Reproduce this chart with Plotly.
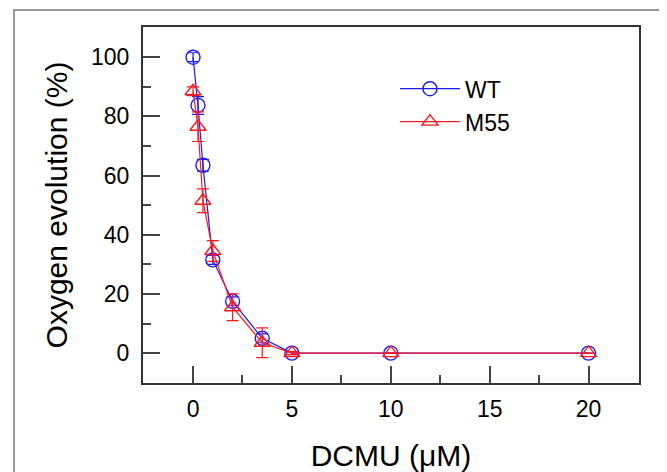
import plotly.graph_objects as go

dcmu = [0, 0.25, 0.5, 1, 2, 3.5, 5, 10, 20]
wt_vals = [100, 83.7, 63.5, 31.5, 17.5, 5, 0, 0, 0]
wt_err = [1.5, 3, 2, 1.5, 1.5, 1.5, 0.5, 0, 0]
m55_vals = [88.5, 76.5, 51.5, 34.5, 15.5, 3.5, 0, 0, 0]
m55_err = [1.5, 5, 4, 3.5, 4.5, 5, 0.5, 0, 0]

x_ticks = [0, 5, 10, 15, 20]
y_ticks = [0, 20, 40, 60, 80, 100]

FONT = "Liberation Sans, Arial, sans-serif"

fig = go.Figure()
fig.add_trace(go.Scatter(
    x=dcmu, y=wt_vals, name="WT", mode="lines+markers",
    line=dict(color="#1a1aff", width=1.2),
    marker=dict(symbol="circle-open", size=14, color="#1a1aff", line=dict(width=1.4)),
    error_y=dict(type="data", array=wt_err, color="#1a1aff", thickness=1.2, width=6),
))
fig.add_trace(go.Scatter(
    x=dcmu, y=m55_vals, name="M55", mode="lines+markers",
    line=dict(color="#ff1a1a", width=1.2),
    marker=dict(symbol="triangle-up-open", size=14, color="#ff1a1a", line=dict(width=1.4)),
    error_y=dict(type="data", array=m55_err, color="#ff1a1a", thickness=1.2, width=6),
))

fig.update_layout(
    width=659, height=464,
    margin=dict(l=135, r=28, t=19, b=89, autoexpand=False),
    paper_bgcolor="white", plot_bgcolor="white",
    font=dict(family=FONT, color="black", size=23),
    showlegend=True,
    legend=dict(x=0.508, y=0.887, xanchor="left", yanchor="top", itemwidth=60,
                bgcolor="rgba(0,0,0,0)", font=dict(size=23), tracegroupgap=0),
    xaxis=dict(
        range=[-2.53, 22.55], tickvals=x_ticks, ticks="inside", ticklen=17,
        tickcolor="#444", tickwidth=1.5,
        minor=dict(dtick=2.5, ticks="inside", ticklen=8, tickcolor="#444", tickwidth=1.5),
        showline=True, linecolor="#333", linewidth=2, mirror=True,
        showgrid=False, zeroline=False, automargin=False,
        ticklabelstandoff=4,
        title=dict(text="DCMU (μM)", font=dict(size=30), standoff=34),
        tickfont=dict(size=23),
    ),
    yaxis=dict(
        range=[-10.1, 110.2], tickvals=y_ticks, ticks="inside", ticklen=17,
        tickcolor="#444", tickwidth=1.5,
        minor=dict(dtick=10, ticks="inside", ticklen=8, tickcolor="#444", tickwidth=1.5),
        showline=True, linecolor="#333", linewidth=2, mirror=True,
        showgrid=False, zeroline=False, automargin=False,
        ticklabelstandoff=7,
        title=dict(text="Oxygen evolution (%)", font=dict(size=30), standoff=15),
        tickfont=dict(size=23),
    ),
    shapes=[dict(type="rect", xref="paper", yref="paper",
                 x0=(14 - 143) / 496, x1=(670 - 143) / 496,
                 y0=(383 - 480) / 356, y1=(383 - 10) / 356,
                 line=dict(color="#999", width=2), fillcolor="rgba(0,0,0,0)", layer="below")],
)

fig.write_html("out.html")
